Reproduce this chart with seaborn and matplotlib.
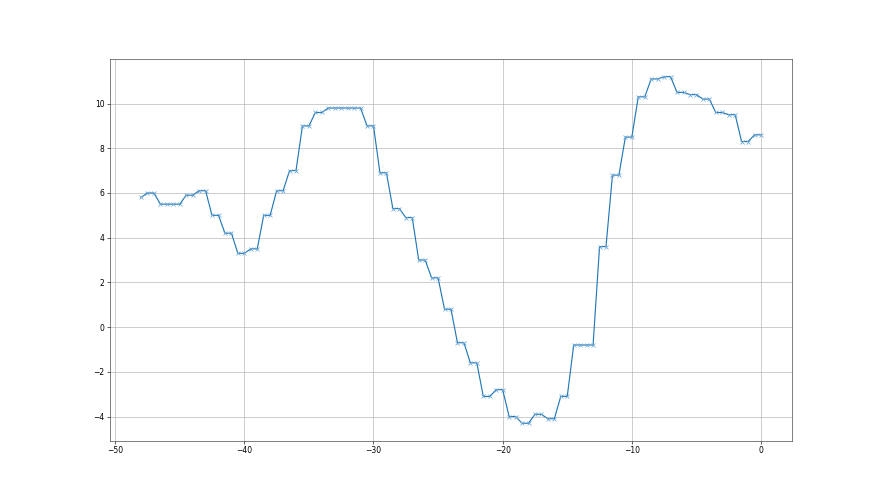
import numpy as np
import pandas as pd
import matplotlib
matplotlib.use("Agg")
import matplotlib.pyplot as plt
import seaborn as sns

x_values = [-48.0 + 0.5 * i for i in range(97)]
y_values = [
    5.8,
    6.0, 6.0,
    5.5, 5.5, 5.5, 5.5,
    5.9, 5.9,
    6.1, 6.1,
    5.0, 5.0,
    4.2, 4.2,
    3.3, 3.3,
    3.5, 3.5,
    5.0, 5.0,
    6.1, 6.1,
    7.0, 7.0,
    9.0, 9.0,
    9.6, 9.6,
    9.8, 9.8, 9.8, 9.8, 9.8, 9.8,
    9.0, 9.0,
    6.9, 6.9,
    5.3, 5.3,
    4.9, 4.9,
    3.0, 3.0,
    2.2, 2.2,
    0.8, 0.8,
    -0.7, -0.7,
    -1.6, -1.6,
    -3.1, -3.1,
    -2.8, -2.8,
    -4.0, -4.0,
    -4.3, -4.3,
    -3.9, -3.9,
    -4.1, -4.1,
    -3.1, -3.1,
    -0.8, -0.8, -0.8, -0.8,
    3.6, 3.6,
    6.8, 6.8,
    8.5, 8.5,
    10.3, 10.3,
    11.1, 11.1,
    11.2, 11.2,
    10.5, 10.5,
    10.4, 10.4,
    10.2, 10.2,
    9.6, 9.6,
    9.5, 9.5,
    8.3, 8.3,
    8.6, 8.6,
]

df = pd.DataFrame({"x": x_values, "y": y_values})

fig, ax = plt.subplots(figsize=(16, 9), dpi=55)
sns.lineplot(data=df, x="x", y="y", ax=ax, color="#1f77b4", linewidth=1.5,
             marker="x", markersize=6, markeredgewidth=1.0,
             markeredgecolor="#6fa8d6")
ax.grid(True, color="#b0b0b0", linewidth=0.8)
ax.set_xlabel("")
ax.set_ylabel("")
ax.set_yticks([-4, -2, 0, 2, 4, 6, 8, 10])
for s in ax.spines.values():
    s.set_color("#333333")
fig.savefig("out.png", dpi=55)
